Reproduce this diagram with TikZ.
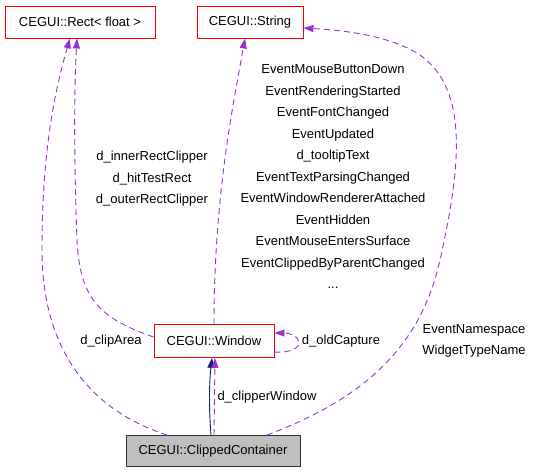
\documentclass[tikz,border=0pt]{standalone}
\usepackage{fontspec}
\setmainfont{Liberation Sans}
\usetikzlibrary{arrows.meta}
\definecolor{edgepurple}{HTML}{9A32CD}
\definecolor{edgeblue}{HTML}{191970}
\definecolor{boxred}{HTML}{FF0000}
\definecolor{boxgray}{HTML}{BFBFBF}

\begin{document}
\begin{tikzpicture} [x=1pt, y=-1pt,
                     font=\fontsize{13}{15}\selectfont,
                     cls/.style= {draw=boxred, fill=white, line width=0.9pt,
                                  minimum height=32pt, inner sep=0pt},
                     usage/.style= {draw=edgepurple, dashed, line width=0.9pt,
                                    dash pattern=on 6pt off 4pt,
                                    -{Triangle[length=10pt,width=7pt,fill=edgepurple]}},
                     lbl/.style= {inner sep=0pt, align=center}]

\useasboundingbox (0,0) rectangle (533,475);

\node[cls, minimum width=150pt] (rect) at (80,22) {CEGUI::Rect< float >};
\node[cls, minimum width=106pt] (string) at (250,22) {CEGUI::String};
\node[cls, minimum width=120pt, minimum height=33pt] (window) at (214,341) {CEGUI::Window};
\node[cls, draw=black!80, fill=boxgray, minimum width=174pt, minimum height=31pt] (clipped) at (213,451) {CEGUI::ClippedContainer};

\coordinate (rectA) at ([xshift=-10pt]rect.south);
\coordinate (rectB) at ([xshift=-3pt]rect.south);
\coordinate (stringIn) at ([xshift=-5pt]string.south);

\draw[usage] ([xshift=-46pt]clipped.north) .. controls (90,410) and (42,350) .. (42,250)
             .. controls (42,150) and (55,90) .. (rectA);
\draw[usage] ([yshift=-13pt]window.north west) .. controls (100,318) and (80,300) .. (77,240)
             .. controls (74,160) and (74,90) .. (rectB);
\draw[usage] (window.north) .. controls (214,200) and (232,110) .. (stringIn);
\draw[usage] ([xshift=54pt]clipped.north) .. controls (360,400) and (420,350) .. (440,260)
             .. controls (460,170) and (470,90) .. (420,55)
             .. controls (390,35) and (340,30) .. ([yshift=-6pt]string.east);
\draw[usage] ([yshift=-11pt]window.east) .. controls (290,353) and (300,348) .. (299,342)
             .. controls (298,336) and (290,333) .. ([yshift=8pt]window.east);

\draw[edgeblue, line width=0.9pt, -{Triangle[length=10pt,width=7pt]}]
     ([xshift=-2pt]clipped.north) .. controls (209,410) and (209,385) .. ([xshift=-2pt]window.south);
\draw[usage] ([xshift=1pt]clipped.north) -- ([xshift=1pt]window.south);

\node[lbl] (lclip) at (111,341) {d\_clipArea};
\node[lbl, font=\fontsize{13}{21.5}\selectfont] (lrect) at (152,179)
     {d\_innerRectClipper\\d\_hitTestRect\\d\_outerRectClipper};
\node[lbl, font=\fontsize{13}{21.5}\selectfont] (lstring) at (333,177)
     {EventMouseButtonDown\\EventRenderingStarted\\EventFontChanged\\EventUpdated\\d\_tooltipText\\EventTextParsingChanged\\EventWindowRendererAttached\\EventHidden\\EventMouseEntersSurface\\EventClippedByParentChanged\\...};
\node[lbl, font=\fontsize{13}{21.5}\selectfont] (lname) at (474,341)
     {EventNamespace\\WidgetTypeName};
\node[lbl] (lcapture) at (341,341) {d\_oldCapture};
\node[lbl] (lclipper) at (267,397) {d\_clipperWindow};

\end{tikzpicture}
\end{document}
